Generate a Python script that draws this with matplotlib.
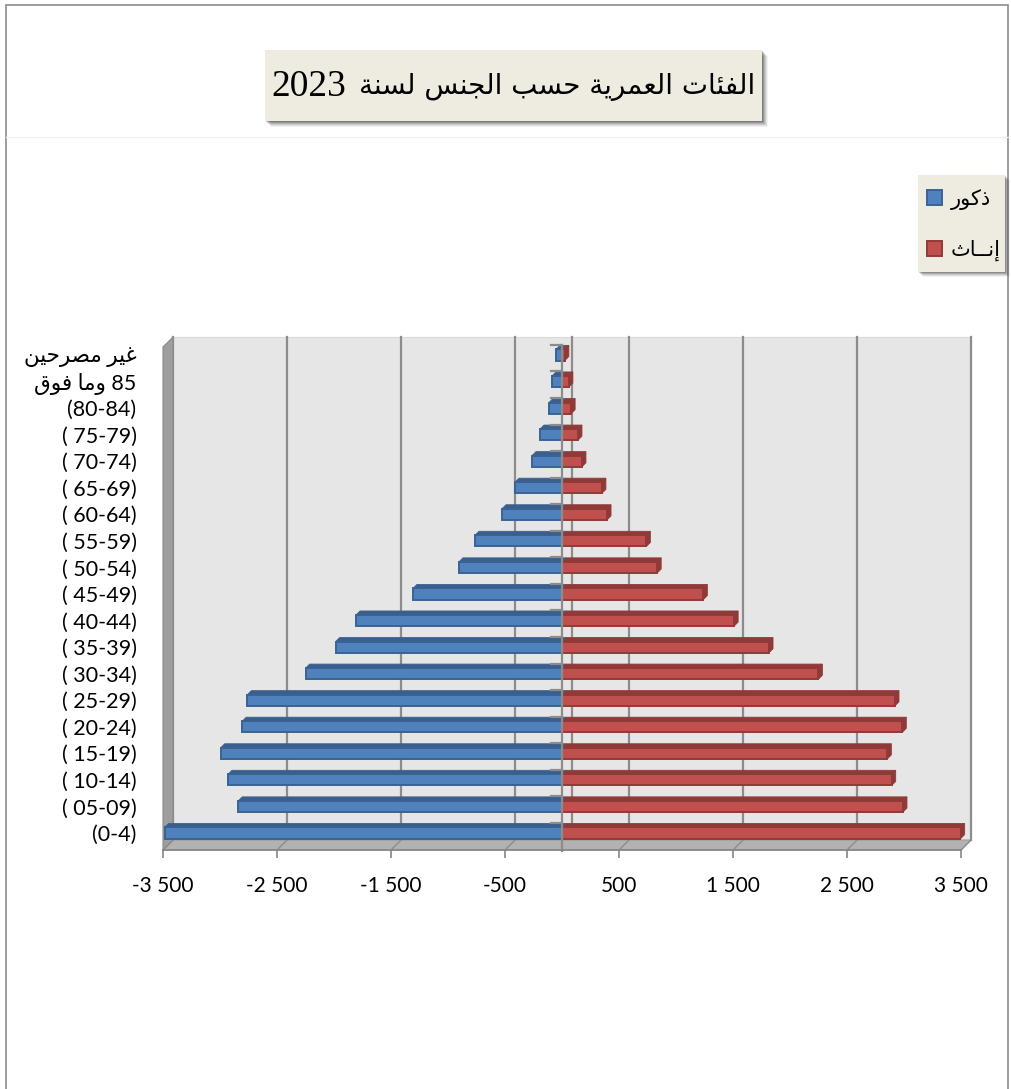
import numpy as np
import matplotlib.pyplot as plt
from matplotlib.patches import Rectangle, Polygon

# age groups, bottom to top
age_groups = ['(0-4)', '( 05-09)', '( 10-14)', '( 15-19)', '( 20-24)', '( 25-29)',
              '( 30-34)', '( 35-39)', '( 40-44)', '( 45-49)', '( 50-54)', '( 55-59)',
              '( 60-64)', '( 65-69)', '( 70-74)', '( 75-79)', '(80-84)',
              '85 وما فوق', 'غير مصرحين']
males = np.array([3485, 2840, 2930, 2994, 2805, 2760, 2249, 1985, 1807, 1307,
                  904, 763, 526, 412, 263, 193, 114, 88, 53])
females = np.array([3497, 2991, 2892, 2854, 2985, 2921, 2249, 1816, 1510, 1240,
                    835, 740, 395, 350, 175, 140, 80, 60, 25])
xticks = [-3500, -2500, -1500, -500, 500, 1500, 2500, 3500]
title_ar = 'الفئات العمرية حسب الجنس لسنة'
title_year = '2023'
series_names = ['ذكور', 'إنــاث']

# --- minimal arabic shaping (presentation forms B) + visual reordering ---
FORMS = {
    'ا': (0xFE8D, 2), 'إ': (0xFE87, 2), 'ب': (0xFE8F, 4), 'ة': (0xFE93, 2),
    'ت': (0xFE95, 4), 'ث': (0xFE99, 4), 'ج': (0xFE9D, 4), 'ح': (0xFEA1, 4),
    'ذ': (0xFEAB, 2), 'ر': (0xFEAD, 2), 'س': (0xFEB1, 4), 'ص': (0xFEB9, 4),
    'ع': (0xFEC9, 4), 'غ': (0xFECD, 4), 'ف': (0xFED1, 4), 'ق': (0xFED5, 4),
    'ك': (0xFED9, 4), 'ل': (0xFEDD, 4), 'م': (0xFEE1, 4), 'ن': (0xFEE5, 4),
    'و': (0xFEED, 2), 'ي': (0xFEF1, 4), 'ئ': (0xFE89, 4),
}
TATWEEL = 'ـ'


def _joins(c):
    return c in FORMS or c == TATWEEL


def _dual(c):
    return c == TATWEEL or (c in FORMS and FORMS[c][1] == 4)


def shape_word(word):
    out = []
    for i, c in enumerate(word):
        if c not in FORMS:
            out.append(c)
            continue
        base, kind = FORMS[c]
        prev = i > 0 and _dual(word[i - 1])
        nxt = kind == 4 and i < len(word) - 1 and _joins(word[i + 1])
        off = 3 if (prev and nxt) else 1 if prev else 2 if nxt else 0
        out.append(chr(base + off))
    return ''.join(out)


def ar(text):
    # lines holding arabic run right to left: shape each word, lay words out reversed
    if not any(_joins(ch) for ch in text):
        return text
    words = text.split(' ')
    vis = [shape_word(w)[::-1] if any(_joins(ch) for ch in w) else w for w in words]
    return ' '.join(vis[::-1])


W, H = 1012, 1089
fig = plt.figure(figsize=(W / 100, H / 100), dpi=100)


def fx(px):
    return px / W


def fy(py):
    return 1 - py / H


# outer chart border and faint separator
fig.add_artist(Rectangle((fx(6), fy(1100)), fx(1008) - fx(6), fy(5) - fy(1100),
                         transform=fig.transFigure, fill=False, ec='#8c8c8c', lw=1.2))
fig.add_artist(plt.Line2D([fx(6), fx(1008)], [fy(137), fy(137)],
                          transform=fig.transFigure, color='#f0f0f0', lw=1))

# title box with soft shadow
tx0, ty0, tx1, ty1 = 265, 50, 762, 121
for k, a in zip(range(6, 0, -1), [0.05, 0.07, 0.09, 0.12, 0.15, 0.18]):
    fig.add_artist(Rectangle((fx(tx0 + k), fy(ty1 + k)), fx(tx1) - fx(tx0), fy(ty0) - fy(ty1),
                             transform=fig.transFigure, fc='black', ec='none', alpha=a))
fig.add_artist(Rectangle((fx(tx0), fy(ty1)), fx(tx1) - fx(tx0), fy(ty0) - fy(ty1),
                         transform=fig.transFigure, fc='#eeece1', ec='none'))
fig.text(fx(271), fy(87), title_year, family='Liberation Serif', fontsize=27,
         ha='left', va='center')
fig.text(fx(755), fy(87), ar(title_ar), family='DejaVu Sans',
         fontsize=20, ha='right', va='center')

# plot area (front box)
ax = fig.add_axes([fx(163), fy(850), fx(961) - fx(163), fy(347) - fy(850)])
xlo, xhi = -3500, 3500
ylo, yhi = -0.64, 18.30
ax.set_xlim(xlo, xhi)
ax.set_ylim(ylo, yhi)
DX = 10 * (xhi - xlo) / 798       # wall depth, 10 px
DY = 10 / 26.56

# back wall, floor, left wall
ax.add_patch(Rectangle((xlo + DX, ylo + DY), xhi - xlo, yhi - ylo, fc='#e6e6e6',
                       ec='#d9d9d9', lw=0.8, zorder=0, clip_on=False))
ax.add_patch(Polygon([(xlo, ylo), (xhi, ylo), (xhi + DX, ylo + DY), (xlo + DX, ylo + DY)],
                     fc='#b2b2b2', ec='#9a9a9a', lw=0.8, zorder=1, clip_on=False))
ax.add_patch(Polygon([(xlo, ylo), (xlo, yhi), (xlo + DX, yhi + DY), (xlo + DX, ylo + DY)],
                     fc='#9e9e9e', ec='#8a8a8a', lw=0.8, zorder=1, clip_on=False))

# gridlines on the back wall and their traces across the floor
for v in xticks + [0]:
    ax.plot([v + DX, v + DX], [ylo + DY, yhi + DY], color='#8c8c8c', lw=1.6,
            zorder=0.5, clip_on=False)
for v in xticks:
    ax.plot([v, v + DX], [ylo, ylo + DY], color='#8c8c8c', lw=1.0, zorder=1.5,
            clip_on=False)

y = np.arange(len(age_groups))
bh = 0.42
bdx, bdy = 4 * (xhi - xlo) / 798, 4 / 26.56

BLUE, BLUE_EDGE, BLUE_TOP = '#4f81bd', '#3a6394', '#3b5f8c'
RED, RED_EDGE, RED_TOP = '#c0504d', '#923a38', '#8e3a38'

mb = ax.barh(y, -males, height=bh, color=BLUE, edgecolor=BLUE_EDGE, lw=1.4,
             zorder=5, label=ar(series_names[0]))
for r in mb:
    x0, x1 = r.get_x() + r.get_width(), r.get_x()
    top = r.get_y() + r.get_height()
    ax.add_patch(Polygon([(x0, top), (x1, top), (x1 + bdx, top + bdy), (x0 + bdx, top + bdy)],
                         fc=BLUE_TOP, ec=BLUE_EDGE, lw=0.6, zorder=5, clip_on=False))

fb = ax.barh(y, females, height=bh, color=RED, edgecolor=RED_EDGE, lw=1.4,
             zorder=6, label=ar(series_names[1]))
for r in fb:
    x0, x1 = r.get_x(), r.get_x() + r.get_width()
    bot, top = r.get_y(), r.get_y() + r.get_height()
    ax.add_patch(Polygon([(x0, top), (x1, top), (x1 + bdx, top + bdy), (x0 + bdx, top + bdy)],
                         fc=RED_TOP, ec=RED_EDGE, lw=0.6, zorder=6, clip_on=False))
    ax.add_patch(Polygon([(x1, bot), (x1 + bdx, bot + bdy), (x1 + bdx, top + bdy), (x1, top)],
                         fc=RED_TOP, ec=RED_EDGE, lw=0.6, zorder=6, clip_on=False))

# vertical category axis at zero with small ticks
ax.plot([0, 0], [ylo - 0.05, y[-1] + 0.38], color='#8c8c8c', lw=1.6, zorder=7,
        clip_on=False)
for k in y:
    ax.plot([-95, 0], [k + 0.38, k + 0.38], color='#8c8c8c', lw=1.6, zorder=7,
            clip_on=False)

# value axis along the front edge of the floor
for s in ['top', 'right', 'left']:
    ax.spines[s].set_visible(False)
ax.spines['bottom'].set_color('#868686')
ax.spines['bottom'].set_linewidth(1.2)
ax.spines['bottom'].set_zorder(8)
ax.set_xticks(xticks, [f'{v:,}'.replace(',', ' ') for v in xticks])
ax.tick_params(axis='x', length=5.5, width=1.2, color='#868686', pad=13,
               labelsize=15)
ax.set_yticks(y, [ar(s) for s in age_groups])
ax.tick_params(axis='y', length=0, pad=19, labelsize=15.5)
for lab in ax.get_xticklabels() + ax.get_yticklabels():
    lab.set_family(['Lato', 'DejaVu Sans'])
ax.patch.set_visible(False)

# legend box
lx0, ly0, lx1, ly1 = 918, 175, 1005, 272
for k, a in zip(range(5, 0, -1), [0.05, 0.08, 0.11, 0.14, 0.18]):
    fig.add_artist(Rectangle((fx(lx0 + k), fy(ly1 + k)), fx(lx1) - fx(lx0), fy(ly0) - fy(ly1),
                             transform=fig.transFigure, fc='black', ec='none', alpha=a))
fig.add_artist(Rectangle((fx(lx0), fy(ly1)), fx(lx1) - fx(lx0), fy(ly0) - fy(ly1),
                         transform=fig.transFigure, fc='#eeece1', ec='none'))
leg = fig.legend(handles=[mb, fb], loc='upper left',
                 bbox_to_anchor=(fx(lx0 + 5), fy(ly0 + 10)), frameon=False,
                 prop={'family': ['DejaVu Sans'], 'size': 15},
                 handlelength=0.72, handleheight=0.72, handletextpad=0.4,
                 labelspacing=1.42, borderpad=0.2, borderaxespad=0)

fig.savefig('out.png', dpi=100)
